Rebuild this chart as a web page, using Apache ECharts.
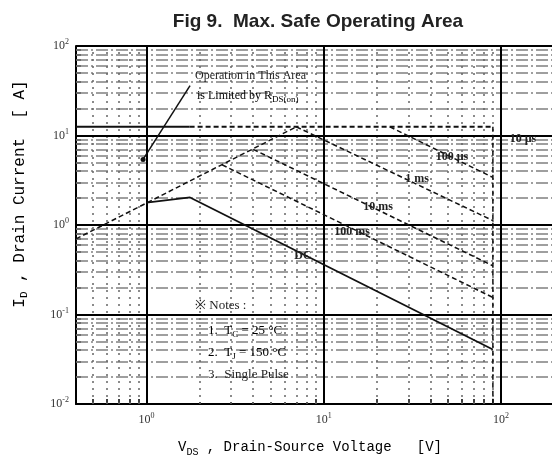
<!DOCTYPE html>
<html>
<head>
<meta charset="utf-8">
<script src="https://cdn.jsdelivr.net/npm/echarts@6/dist/echarts.min.js"></script>
<style>html,body{margin:0;padding:0;background:#fff}#soaPic{width:552px;height:461px}</style>
</head>
<body>
<div id="soaPic"></div>
<script>
// axis ranges (V, A)
var vdsRange = [0.4, 194];
var idRange = [0.01, 100];

// grid lines
var majorV = [1, 10, 100];
var minorV = [0.5, 0.6, 0.7, 0.8, 0.9, 2, 3, 4, 5, 6, 7, 8, 9, 20, 30, 40, 50, 60, 70, 80, 90];
var majorI = [0.1, 1, 10, 100];
var minorI = [0.02, 0.03, 0.04, 0.05, 0.06, 0.07, 0.08, 0.09, 0.2, 0.3, 0.4, 0.5, 0.6, 0.7, 0.8, 0.9,
              2, 3, 4, 5, 6, 7, 8, 9, 20, 30, 40, 50, 60, 70, 80, 90];
var xTickLabels = [1, 10, 100];
var yTickLabels = [0.01, 0.1, 1, 10, 100];

// curves [Vds, Id]
var rdsonLimit = [[0.4, 0.7], [7.0, 12.5]];
var idLimitSolid = [[0.4, 12.5], [1.75, 12.5]];
var pulse10us = [[1.75, 12.5], [90, 12.5]];
var pulse100us = [[23.6, 12.5], [90, 3.4]];
var pulse1ms = [[7.0, 12.5], [90, 1.12]];
var pulse10ms = [[4.0, 7.0], [90, 0.35]];
var pulse100ms = [[2.67, 4.7], [90, 0.155]];
var dcLine = [[1.0, 1.78], [1.76, 2.03], [90, 0.0406]];
var bvdssLimit = [[90, 12.5], [90, 0.01]];
var pointerLine = [[1.76, 36], [0.956, 5.4]];

var dom = document.getElementById("soaPic");
var myChart = echarts.init(dom);

var supRich = {
    b: {fontFamily: 'Liberation Serif', fontSize: 12, color: '#333', lineHeight: 16},
    s: {fontFamily: 'Liberation Serif', fontSize: 8, color: '#333', lineHeight: 16, verticalAlign: 'top', padding: [0, 0, 6, 0]}
};
function powLabel(v) {
    var e = Math.round(Math.log10(v));
    return '{b|10}{s|' + e + '}';
}

function gridSeries(values, axis, style) {
    return {
        type: 'line', data: [], z: 2, silent: true,
        markLine: {
            silent: true, symbol: ['none', 'none'], animation: false,
            label: {show: false},
            lineStyle: style,
            data: values.map(function (v) { var o = {}; o[axis] = v; return o; })
        }
    };
}

function curve(name, data, type, width) {
    return {
        name: name, type: 'line', data: data, symbol: 'none', z: 5, silent: true,
        lineStyle: {color: '#111', width: width || 1.5, type: type || 'solid'}
    };
}

var dash = [5, 3];
var monoRich = {
    m: {fontFamily: 'Liberation Mono', fontSize: 14, color: '#333', lineHeight: 20},
    sub: {fontFamily: 'Liberation Mono', fontSize: 10, color: '#333', lineHeight: 20, verticalAlign: 'bottom', padding: [8, 0, 0, 0]}
};
var serifRich = {
    m: {fontFamily: 'Liberation Serif', fontSize: 13, color: '#222', lineHeight: 18},
    sub: {fontFamily: 'Liberation Serif', fontSize: 9, color: '#222', lineHeight: 18, padding: [7, 0, 0, 0]}
};

option = {
    animation: false,
    backgroundColor: '#fff',
    title: {
        text: 'Fig 9.  Max. Safe Operating Area',
        left: 313, top: 7, textAlign: 'center',
        textStyle: {fontFamily: 'Liberation Sans', fontWeight: 'bold', fontSize: 19, color: '#222'}
    },
    grid: {left: 76, top: 46, right: 0, bottom: 57},
    xAxis: {
        type: 'log', logBase: 10, min: vdsRange[0], max: vdsRange[1],
        axisLine: {lineStyle: {color: '#000', width: 2}},
        axisTick: {show: true, inside: true, length: 5, lineStyle: {color: '#000', width: 1.5},
                   customValues: minorV.concat(majorV)},
        axisLabel: {margin: 8, customValues: xTickLabels, formatter: powLabel, rich: supRich},
        splitLine: {show: false}
    },
    yAxis: {
        type: 'log', logBase: 10, min: idRange[0], max: idRange[1],
        axisLine: {lineStyle: {color: '#000', width: 2}},
        axisTick: {show: true, inside: true, length: 5, lineStyle: {color: '#000', width: 1.5},
                   customValues: minorI.concat(majorI)},
        axisLabel: {margin: 7, customValues: yTickLabels, formatter: powLabel, rich: supRich},
        splitLine: {show: false}
    },
    series: [
        gridSeries(minorI, 'yAxis', {color: '#808080', width: 1.5, type: [12, 3, 2, 3]}),
        gridSeries(minorV, 'xAxis', {color: '#666', width: 1.5, type: [2, 5]}),
        gridSeries(majorI, 'yAxis', {color: '#000', width: 2, type: 'solid'}),
        gridSeries(majorV, 'xAxis', {color: '#000', width: 2, type: 'solid'}),
        curve('RDS(on)', rdsonLimit, dash),
        curve('ID limit', idLimitSolid, 'solid', 2),
        curve('10 us', pulse10us, dash, 2),
        curve('100 us', pulse100us, dash),
        curve('1 ms', pulse1ms, dash),
        curve('10 ms', pulse10ms, dash),
        curve('100 ms', pulse100ms, dash),
        curve('DC', dcLine, 'solid', 1.8),
        curve('BVDSS', bvdssLimit, dash),
        {
            type: 'line', data: pointerLine, z: 5, silent: true,
            symbol: 'circle', showSymbol: true,
            symbolSize: function (v, p) { return p.dataIndex === 1 ? 5 : 0; },
            itemStyle: {color: '#111'},
            lineStyle: {color: '#111', width: 1.5}
        }
    ],
    graphic: [
        {type: 'rect', z: 4, shape: {x: 182, y: 283, width: 132, height: 119}, style: {fill: '#fff'}},
        {type: 'text', z: 6, x: 20, y: 194, rotation: Math.PI / 2,
         style: {text: '{m|I}{sub|D}{m| , Drain Current  [ A]}', rich: {
             m: {fontFamily: 'Liberation Mono', fontSize: 16, color: '#333', lineHeight: 22},
             sub: {fontFamily: 'Liberation Mono', fontSize: 11, color: '#333', lineHeight: 22, padding: [9, 0, 0, 0]}},
             align: 'center', verticalAlign: 'middle'}},
        {type: 'text', z: 6, x: 310, y: 447,
         style: {text: '{m|V}{sub|DS}{m| , Drain-Source Voltage   [V]}', rich: monoRich, align: 'center', verticalAlign: 'middle'}},
        {type: 'text', z: 6, x: 195, y: 76,
         style: {text: 'Operation in This Area', fontFamily: 'Liberation Serif', fontSize: 12, fill: '#222', verticalAlign: 'middle'}},
        {type: 'text', z: 6, x: 197, y: 96,
         style: {text: '{m|is Limited by R}{sub|DS(on)}', rich: {
             m: {fontFamily: 'Liberation Serif', fontSize: 12, color: '#222', lineHeight: 16},
             sub: {fontFamily: 'Liberation Serif', fontSize: 9, color: '#222', lineHeight: 16, padding: [7, 0, 0, 0]}},
             verticalAlign: 'middle'}},
        {type: 'text', z: 6, x: 195, y: 306,
         style: {text: '\u203b Notes :', fontFamily: 'Liberation Serif', fontSize: 13, fill: '#222', verticalAlign: 'middle'}},
        {type: 'text', z: 6, x: 208, y: 331,
         style: {text: '{m|1.  T}{sub|C}{m| = 25 \u00b0C}', rich: serifRich, verticalAlign: 'middle'}},
        {type: 'text', z: 6, x: 208, y: 353,
         style: {text: '{m|2.  T}{sub|J}{m| = 150 \u00b0C}', rich: serifRich, verticalAlign: 'middle'}},
        {type: 'text', z: 6, x: 208, y: 375,
         style: {text: '3.  Single Pulse', fontFamily: 'Liberation Serif', fontSize: 13, fill: '#222', verticalAlign: 'middle'}},
        {type: 'text', z: 6, x: 523, y: 139,
         style: {text: '10 \u00b5s', fontFamily: 'Liberation Serif', fontWeight: 'bold', fontSize: 12, fill: '#222', align: 'center', verticalAlign: 'middle'}},
        {type: 'text', z: 6, x: 452, y: 157,
         style: {text: '100 \u00b5s', fontFamily: 'Liberation Serif', fontWeight: 'bold', fontSize: 12, fill: '#222', align: 'center', verticalAlign: 'middle'}},
        {type: 'text', z: 6, x: 417, y: 179,
         style: {text: '1 ms', fontFamily: 'Liberation Serif', fontWeight: 'bold', fontSize: 12, fill: '#222', align: 'center', verticalAlign: 'middle'}},
        {type: 'text', z: 6, x: 378, y: 207,
         style: {text: '10 ms', fontFamily: 'Liberation Serif', fontWeight: 'bold', fontSize: 12, fill: '#222', align: 'center', verticalAlign: 'middle'}},
        {type: 'text', z: 6, x: 352, y: 232,
         style: {text: '100 ms', fontFamily: 'Liberation Serif', fontWeight: 'bold', fontSize: 12, fill: '#222', align: 'center', verticalAlign: 'middle'}},
        {type: 'text', z: 6, x: 303, y: 256,
         style: {text: 'DC', fontFamily: 'Liberation Serif', fontWeight: 'bold', fontSize: 12, fill: '#222', align: 'center', verticalAlign: 'middle'}}
    ]
};
if (option && typeof option === "object") {
    myChart.setOption(option, true);
}
</script>
</body>
</html>
